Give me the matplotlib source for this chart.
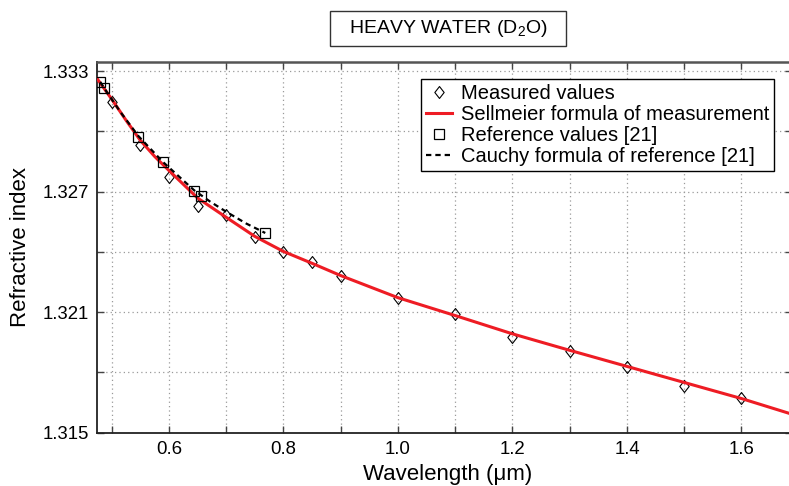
import matplotlib
matplotlib.use('Agg')
import matplotlib.pyplot as plt
from matplotlib.path import Path
from matplotlib.patches import Rectangle

plt.rcParams['font.family'] = ['Liberation Sans', 'DejaVu Sans']
plt.rcParams['mathtext.default'] = 'regular'

# ---- data ----
meas_wl = [0.50, 0.55, 0.60, 0.65, 0.70, 0.75, 0.80, 0.85, 0.90, 1.0, 1.1, 1.2, 1.3, 1.4, 1.5, 1.6]
meas_n = [1.33147, 1.32931, 1.32771, 1.32630, 1.32582, 1.32475, 1.32399, 1.32349,
          1.32280, 1.32169, 1.32089, 1.31978, 1.31908, 1.31828, 1.31734, 1.31671]

sell_wl = [0.4743, 0.50, 0.525, 0.55, 0.575, 0.60, 0.65, 0.70, 0.75, 0.80, 0.85, 0.90,
           1.00, 1.10, 1.20, 1.30, 1.40, 1.50, 1.60, 1.6883]
sell_n = [1.33263, 1.33160, 1.33055, 1.32955, 1.32875, 1.32805, 1.32668, 1.32572, 1.32477,
          1.32402, 1.32343, 1.32282, 1.32172, 1.32083, 1.31992, 1.31910, 1.31830, 1.31750,
          1.31670, 1.31592]

ref_wl = [0.4800, 0.4861, 0.5461, 0.5893, 0.6438, 0.6563, 0.7682]
ref_n = [1.33246, 1.33218, 1.32973, 1.32845, 1.32705, 1.32679, 1.32494]

cauchy_wl = [0.4800, 0.4861, 0.515, 0.5461, 0.5893, 0.6438, 0.672, 0.701, 0.735, 0.7682]
cauchy_n = [1.33246, 1.33218, 1.33097, 1.32978, 1.32848, 1.32707, 1.32650, 1.32598, 1.32541, 1.32494]

xtick_vals = [0.5, 0.6, 0.7, 0.8, 0.9, 1.0, 1.1, 1.2, 1.3, 1.4, 1.5, 1.6]
xtick_labels = ['', '0.6', '', '0.8', '', '1.0', '', '1.2', '', '1.4', '', '1.6']
ytick_vals = [1.315, 1.318, 1.321, 1.324, 1.327, 1.330, 1.333]
ytick_labels = ['1.315', '', '1.321', '', '1.327', '', '1.333']

# ---- figure ----
W, H = 789, 486
fig = plt.figure(figsize=(W / 100, H / 100), dpi=100)
L, R, B, T = 97, 792, 432.7, 62
ax = fig.add_axes([L / W, 1 - B / H, (R - L) / W, (B - T) / H])

diamond = Path([(0, 1), (0.78, 0), (0, -1), (-0.78, 0), (0, 1)],
               [Path.MOVETO, Path.LINETO, Path.LINETO, Path.LINETO, Path.CLOSEPOLY])

ax.plot(meas_wl, meas_n, linestyle='none', marker=diamond, ms=8.6, mfc='none',
        mec='black', mew=0.8, label='Measured values', zorder=3)
ax.plot(sell_wl, sell_n, color='#ee1c24', lw=2.2,
        label='Sellmeier formula of measurement', zorder=4)
ax.plot(ref_wl, ref_n, linestyle='none', marker='s', ms=6.5, mfc='none',
        mec='black', mew=0.9, label='Reference values [21]', zorder=5)
ax.plot(cauchy_wl, cauchy_n, color='black', lw=1.6, ls=(0, (2.4, 1.8)),
        label='Cauchy formula of reference [21]', zorder=6)

ax.set_xlim(0.4743, 1.6883)
ax.set_ylim(1.315, 1.33345)
ax.set_xticks(xtick_vals)
ax.set_xticklabels(xtick_labels)
ax.set_yticks(ytick_vals)
ax.set_yticklabels(ytick_labels)
ax.tick_params(direction='in', length=5, width=1, color='#444444',
               labelsize=13.4, pad=6, top=True, right=True)
ax.grid(True, color='#9a9a9a', linestyle=(0, (1, 2.5)), linewidth=0.9)

for s in ['left', 'bottom']:
    ax.spines[s].set_linewidth(1.3)
    ax.spines[s].set_color('#222222')
ax.spines['top'].set_linewidth(1.8)
ax.spines['top'].set_color('#555555')

ax.set_xlabel('Wavelength (μm)', fontsize=16)
ax.xaxis.set_label_coords((448 - L) / (R - L), (B - 464) / (B - T))
ax.set_ylabel('Refractive index', fontsize=16)
ax.yaxis.set_label_coords((31 - L) / (R - L), (B - 247) / (B - T))

leg = ax.legend(loc='upper right',
                bbox_to_anchor=((774 - L) / (R - L), (B - 79.3) / (B - T)),
                fontsize=14.5, frameon=True, fancybox=False, edgecolor='black',
                framealpha=1, borderpad=0.25, handlelength=1.25, handletextpad=0.45,
                labelspacing=0.1, borderaxespad=0, numpoints=1)
leg.get_frame().set_linewidth(1.0)

# title box
fig.patches.append(Rectangle((330 / W, 1 - 46 / H), 236 / W, 35 / H,
                             transform=fig.transFigure, fill=False,
                             ec='#333333', lw=1.0))
fig.text(448 / W, 1 - 28.5 / H, 'HEAVY WATER (D$_{2}$O)', ha='center', va='center',
         fontsize=14)

fig.savefig('out.png', dpi=100)
